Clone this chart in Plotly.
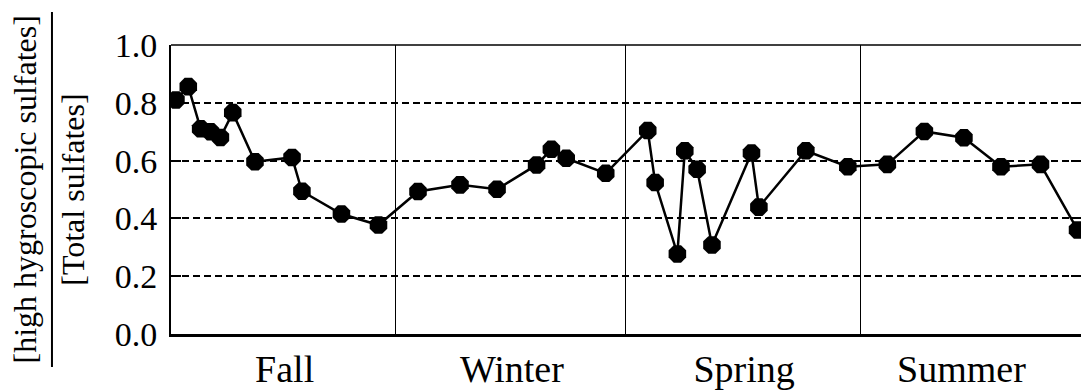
import plotly.graph_objects as go

# Sampling day (days from the start of fall) and sulfate ratio
days = [2, 7, 12, 16, 20, 25, 34, 49, 53, 69, 84,
        100, 117, 132, 148, 154, 160, 176,
        193, 196, 205, 208, 213, 219, 235, 238, 257, 274,
        290, 305, 321, 336, 352, 367]
ratio = [0.81, 0.856, 0.71, 0.70, 0.68, 0.766, 0.596, 0.611, 0.494, 0.415, 0.377,
         0.493, 0.516, 0.501, 0.585, 0.639, 0.608, 0.556,
         0.704, 0.524, 0.277, 0.634, 0.570, 0.308, 0.626, 0.439, 0.634, 0.579,
         0.587, 0.701, 0.679, 0.579, 0.587, 0.36]

seasons = ["Fall", "Winter", "Spring", "Summer"]
season_centers = [46, 138, 232, 320]
season_bounds = [91, 184, 279]

y_ticks = [0.0, 0.2, 0.4, 0.6, 0.8, 1.0]
y_tick_text = ["0.0", "0.2", "0.4", "0.6", "0.8", "1.0"]

FONT = "Liberation Serif"

fig = go.Figure()
fig.add_trace(go.Scatter(
    x=days, y=ratio, mode="lines+markers",
    line=dict(color="black", width=2.5),
    marker=dict(symbol="octagon", size=19, color="black"),
    showlegend=False,
))
# empty trace so the right-hand tick axis is drawn
fig.add_trace(go.Scatter(x=[], y=[], yaxis="y2", showlegend=False))

fig.update_layout(
    width=1081, height=392,
    margin=dict(l=171, r=0, t=45, b=58),
    paper_bgcolor="white", plot_bgcolor="white",
    font=dict(family=FONT, color="black", size=32),
    xaxis=dict(
        range=[0, 368.4], showgrid=False, zeroline=False,
        showline=True, linecolor="black", linewidth=2.5,
        tickvals=season_centers, ticktext=seasons, ticks="",
        tickfont=dict(family=FONT, size=38, color="black"), ticklabelstandoff=0,
        minor=dict(tickvals=season_bounds, showgrid=True,
                   gridcolor="black", gridwidth=1, ticks=""),
    ),
    yaxis=dict(
        range=[0, 1.0], tickvals=y_ticks, ticktext=y_tick_text,
        showgrid=True, gridcolor="black", gridwidth=2, griddash="7px,4px",
        zeroline=False, showline=True, linecolor="black", linewidth=2,
        ticks="inside", ticklen=10, tickwidth=2, tickcolor="black",
        tickfont=dict(family=FONT, size=34, color="black"), ticklabelstandoff=5,
    ),
    yaxis2=dict(
        range=[0, 1.0], overlaying="y", side="right", anchor="x",
        matches="y", tickvals=y_ticks, showticklabels=False,
        showgrid=False, zeroline=False, showline=False,
        ticks="inside", ticklen=10, tickwidth=2, tickcolor="black",
    ),
)

# top frame line and the fraction bar of the y-axis title
fig.add_shape(type="line", xref="paper", yref="paper", x0=0, x1=1, y0=1, y1=1,
              line=dict(color="black", width=1.5))
fig.add_shape(type="line", xref="paper", yref="paper",
              x0=-0.1308, x1=-0.1308, y0=-0.114, y1=1.114,
              line=dict(color="black", width=2))

fig.add_annotation(text="[high hygroscopic sulfates]", xref="paper", yref="paper",
                   x=-0.1605, y=0.5, textangle=-90, showarrow=False,
                   xanchor="center", yanchor="middle",
                   font=dict(family=FONT, size=32, color="black"))
fig.add_annotation(text="[Total sulfates]", xref="paper", yref="paper",
                   x=-0.1085, y=0.5, textangle=-90, showarrow=False,
                   xanchor="center", yanchor="middle",
                   font=dict(family=FONT, size=32, color="black"))

fig.write_html("out.html")
